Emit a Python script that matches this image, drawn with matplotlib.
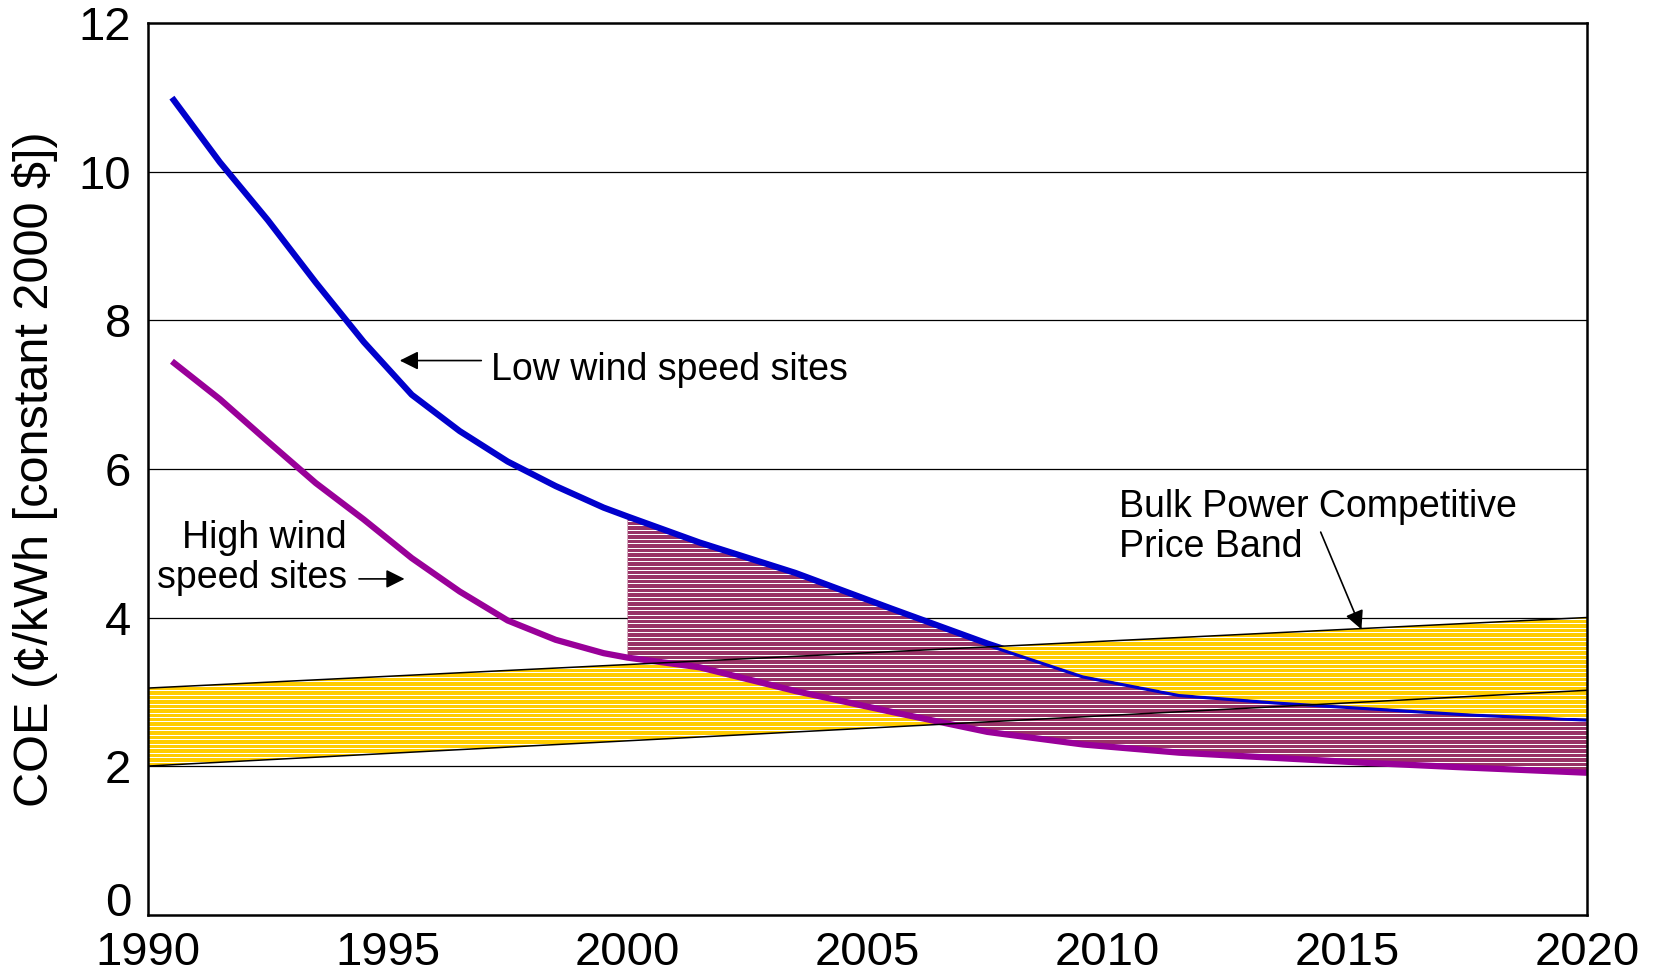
import matplotlib.pyplot as plt
import matplotlib.transforms as mtransforms
import numpy as np

# data
years = [1990.5, 1991.5, 1992.5, 1993.5, 1994.5, 1995.5, 1996.5, 1997.5, 1998.5,
         1999.5, 2000, 2001.5, 2003.5, 2005.5, 2007.5, 2009.5, 2011.5, 2013.5,
         2015.5, 2017.5, 2020]
low_wind = [11.0, 10.13, 9.35, 8.51, 7.71, 7.0, 6.51, 6.10, 5.77,
            5.48, 5.36, 5.01, 4.6, 4.12, 3.65, 3.22, 2.97, 2.87,
            2.79, 2.71, 2.64]
high_wind = [7.45, 6.94, 6.37, 5.81, 5.32, 4.80, 4.35, 3.96, 3.70,
             3.52, 3.46, 3.33, 3.01, 2.73, 2.46, 2.29, 2.18, 2.11,
             2.04, 1.98, 1.91]
band_years = [1990, 2020]
band_low = [2.0, 3.02]
band_high = [3.05, 4.0]
x_ticks = [1990, 1995, 2000, 2005, 2010, 2015, 2020]
y_ticks = [0, 2, 4, 6, 8, 10, 12]

plt.rcParams['font.family'] = ['Liberation Sans', 'DejaVu Sans']

fig = plt.figure(figsize=(16.53, 9.74), dpi=100)
ax = fig.add_axes([0.0895, 0.061, 0.8705, 0.915])

yrs = np.array(years)
low = np.array(low_wind)
high = np.array(high_wind)
band_top = np.interp(yrs, band_years, band_high)
stripe_y = np.arange(0.02, 12, 0.06)


def striped(poly, z):
    # thin white horizontal stripes clipped to a filled region
    for p in poly.get_paths():
        st = ax.hlines(stripe_y, 1990, 2020, color='white', lw=0.72, zorder=z)
        st.set_snap(True)
        st.set_clip_path(p, poly.get_transform())


# gridlines
for yv in y_ticks[1:-1]:
    ax.axhline(yv, color='black', lw=0.9, zorder=1)

# competitive price band
band = ax.fill_between(band_years, band_low, band_high, facecolor='#FFCC00',
                       linewidth=0, zorder=2)
striped(band, 2.1)

# region between the two curves after 2000
gap = ax.fill_between(yrs, high, low, where=yrs >= 2000, facecolor='#993366',
                      linewidth=0, zorder=3)
striped(gap, 3.1)

ax.plot(yrs, low, color='#0000CC', lw=4.5, zorder=5, solid_capstyle='butt')
ax.plot(yrs, high, color='#990099', lw=4.5, zorder=5, solid_capstyle='butt')

# band laid over the low-wind curve where the curve runs inside it
over = ax.fill_between(yrs, low, band_top, where=(yrs >= 2005) & (low < band_top),
                       interpolate=True, facecolor='#FFCC00', linewidth=0,
                       zorder=5.5)
striped(over, 5.55)

ax.plot(band_years, band_low, color='black', lw=1.1, zorder=5.6)
ax.plot(band_years, band_high, color='black', lw=1.1, zorder=5.6)

# annotations
arrow = dict(arrowstyle='-|>', color='black', lw=1.2, mutation_scale=28,
             shrinkA=0, shrinkB=0)
ax.annotate('', xy=(1995.25, 7.46), xytext=(1996.95, 7.46), arrowprops=arrow)
ax.text(1997.15, 7.33, 'Low wind speed sites', fontsize=27, va='center', ha='left')

ax.text(1994.15, 4.80, 'High wind\nspeed sites', fontsize=27, va='center',
        ha='right', multialignment='right', linespacing=1.12)
ax.annotate('', xy=(1995.35, 4.52), xytext=(1994.4, 4.52), arrowprops=arrow)

ax.text(2010.25, 5.22, 'Bulk Power Competitive\nPrice Band', fontsize=27,
        va='center', ha='left', linespacing=1.12)
ax.annotate('', xy=(2015.3, 3.84), xytext=(2014.45, 5.15), arrowprops=arrow)

ax.set_xlim(1990, 2020)
ax.set_ylim(0, 12)
ax.set_xticks(x_ticks)
ax.set_yticks(y_ticks)
ax.tick_params(axis='both', length=0, labelsize=34)
ax.tick_params(axis='x', pad=12)
ax.tick_params(axis='y', pad=12)
ax.set_ylabel('COE (\u00a2/kWh [constant 2000 $])', fontsize=35)
ax.yaxis.set_label_coords(-0.0625, 0.5)

# the "0" label sits a little above the axis line in the original
fig.canvas.draw()
lab0 = ax.get_yticklabels()[0]
lab0.set_transform(lab0.get_transform() +
                   mtransforms.ScaledTranslation(0, 0.16, fig.dpi_scale_trans))

for s in ax.spines.values():
    s.set_linewidth(1.8)
    s.set_zorder(6)

fig.savefig('out.png', dpi=100)
